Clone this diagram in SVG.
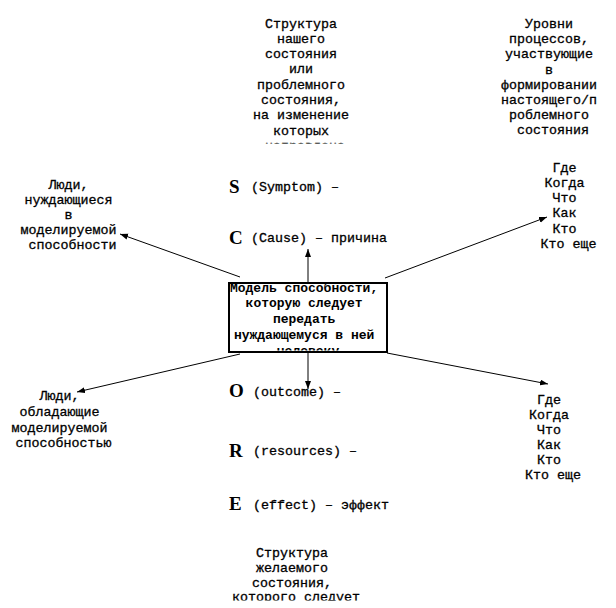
<svg xmlns="http://www.w3.org/2000/svg" width="616" height="608" viewBox="0 0 616 608">
  <style>
    .t { font-family: "Liberation Mono", "Courier New", monospace; font-size: 13.33px; fill: #000; stroke: #000; stroke-width: 0.3; text-anchor: middle; }
    .l { font-family: "Liberation Mono", "Courier New", monospace; font-size: 13.33px; fill: #000; stroke: #000; stroke-width: 0.3; }
    .b { font-weight: bold; font-size: 13px; stroke-width: 0; }
    .big { font-family: "Liberation Serif", "Times New Roman", serif; font-size: 19px; font-weight: bold; fill: #000; }
    .conn { stroke: #000; stroke-width: 1; fill: none; marker-end: url(#arr); }
  </style>
  <defs>
    <marker id="arr" markerUnits="userSpaceOnUse" markerWidth="9" markerHeight="7" refX="8" refY="3" orient="auto">
      <path d="M0,0 L8,3 L0,6 z" fill="#000"/>
    </marker>
    <clipPath id="clipTop"><rect x="200" y="0" width="220" height="143.5"/></clipPath>
    <clipPath id="clipBox"><rect x="230" y="284" width="156" height="66.5"/></clipPath>
    <clipPath id="clipBottom"><rect x="200" y="530" width="220" height="70.5"/></clipPath>
  </defs>
  <rect width="616" height="608" fill="#fff"/>

  <g id="connectors">
    <line class="conn" x1="308" y1="282" x2="308" y2="249"/>
    <line class="conn" x1="308" y1="353" x2="308" y2="389"/>
    <line class="conn" x1="240" y1="277" x2="120" y2="234"/>
    <line class="conn" x1="385" y1="278" x2="547" y2="217"/>
    <line class="conn" x1="240" y1="354" x2="77" y2="392"/>
    <line class="conn" x1="387" y1="353" x2="548" y2="384"/>
  </g>

  <g id="node-center">
    <rect x="229" y="283" width="158" height="69" fill="#fff" stroke="#000" stroke-width="2"/>
    <text class="t b" clip-path="url(#clipBox)" x="308" y="291.5">
      <tspan x="308">Модель способности,</tspan>
      <tspan x="308" dy="15.8">которую следует</tspan>
      <tspan x="308" dy="15.8">передать</tspan>
      <tspan x="308" dy="15.8">нуждающемуся в ней</tspan>
      <tspan x="308" dy="15.8">человеку</tspan>
    </text>
  </g>

  <g id="node-top-structure">
    <text class="t" clip-path="url(#clipTop)" x="305" y="27.5">
      <tspan x="305">Структура</tspan>
      <tspan x="305" dy="15.33">нашего</tspan>
      <tspan x="305" dy="15.33">состояния</tspan>
      <tspan x="305" dy="15.33">или</tspan>
      <tspan x="305" dy="15.33">проблемного</tspan>
      <tspan x="305" dy="15.33">состояния,</tspan>
      <tspan x="305" dy="15.33">на изменение</tspan>
      <tspan x="305" dy="15.33">которых</tspan>
      <tspan x="305" dy="15.33">направлена</tspan>
    </text>
  </g>

  <g id="node-top-levels">
    <text class="t" x="553" y="28">
      <tspan x="553">Уровни</tspan>
      <tspan x="553" dy="15.2">процессов,</tspan>
      <tspan x="553" dy="15.2">участвующие</tspan>
      <tspan x="553" dy="15.2">в</tspan>
      <tspan x="553" dy="15.2">формировании</tspan>
      <tspan x="553" dy="15.2">настоящего/п</tspan>
      <tspan x="553" dy="15.2">роблемного</tspan>
      <tspan x="553" dy="15.2">состояния</tspan>
    </text>
  </g>

  <g id="node-people-needing">
    <text class="t" x="72.5" y="188.5">
      <tspan x="72.5">Люди,</tspan>
      <tspan x="72.5" dy="15">нуждающиеся</tspan>
      <tspan x="72.5" dy="15">в</tspan>
      <tspan x="72.5" dy="15">моделируемой</tspan>
      <tspan x="72.5" dy="15">способности</tspan>
    </text>
  </g>

  <g id="node-list-top">
    <text class="t" x="568.5" y="171.5">
      <tspan x="568.5">Где</tspan>
      <tspan x="568.5" dy="15.3">Когда</tspan>
      <tspan x="568.5" dy="15.3">Что</tspan>
      <tspan x="568.5" dy="15.3">Как</tspan>
      <tspan x="568.5" dy="15.3">Кто</tspan>
      <tspan x="568.5" dy="15.3">Кто еще</tspan>
    </text>
  </g>

  <g id="node-people-having">
    <text class="t" x="63.5" y="400">
      <tspan x="63.5">Люди,</tspan>
      <tspan x="63.5" dy="15.8">обладающие</tspan>
      <tspan x="63.5" dy="15.8">моделируемой</tspan>
      <tspan x="63.5" dy="15.8">способностью</tspan>
    </text>
  </g>

  <g id="node-list-bottom">
    <text class="t" x="553" y="403.5">
      <tspan x="553">Где</tspan>
      <tspan x="553" dy="15.1">Когда</tspan>
      <tspan x="553" dy="15.1">Что</tspan>
      <tspan x="553" dy="15.1">Как</tspan>
      <tspan x="553" dy="15.1">Кто</tspan>
      <tspan x="553" dy="15.1">Кто еще</tspan>
    </text>
  </g>

  <g id="node-s">
    <text class="big" x="229" y="192.5">S</text>
    <text class="l" x="251" y="191">(Symptom) –</text>
  </g>
  <g id="node-c">
    <text class="big" x="229" y="243.5">C</text>
    <text class="l" x="251" y="242">(Cause) – причина</text>
  </g>
  <g id="node-o">
    <text class="big" x="229" y="397">O</text>
    <text class="l" x="253" y="395.5">(outcome) –</text>
  </g>
  <g id="node-r">
    <text class="big" x="229" y="456.5">R</text>
    <text class="l" x="253" y="455">(resources) –</text>
  </g>
  <g id="node-e">
    <text class="big" x="229" y="510">E</text>
    <text class="l" x="253" y="508.5">(effect) – эффект</text>
  </g>

  <g id="node-bottom-structure">
    <text class="t" clip-path="url(#clipBottom)" x="296" y="557">
      <tspan x="296">Структура</tspan>
      <tspan x="296" dy="14.8">желаемого</tspan>
      <tspan x="296" dy="14.8">состояния,</tspan>
      <tspan x="296" dy="14.8">которого следует</tspan>
    </text>
  </g>
</svg>
